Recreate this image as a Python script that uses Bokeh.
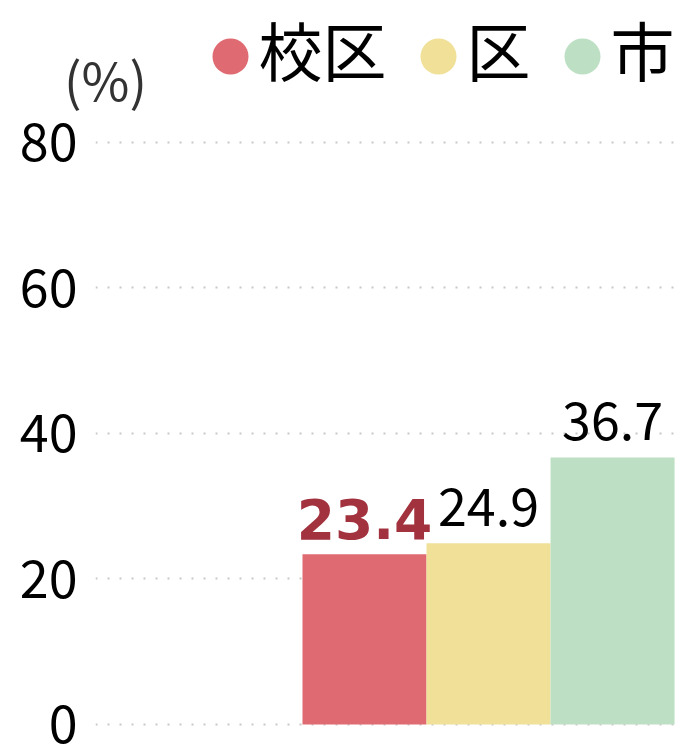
from bokeh.plotting import figure
from bokeh.models import (ColumnDataSource, Range1d, Label, FixedTicker, CDSView,
                          IndexFilter)
from bokeh.layouts import column
from bokeh.transform import dodge
from bokeh.core.properties import value
from bokeh.embed import file_html
from bokeh.resources import INLINE

# ---- data ----
categories = ["校区", "区", "市"]
values = [23.4, 24.9, 36.7]
colors = ["#DF6A72", "#F0E098", "#BDE0C4"]
y_ticks = [0, 20, 40, 60, 80]
unit_text = "(%)"
highlight = 0  # the school-district bar is emphasised

x_pos = list(range(len(categories)))
others = [i for i in x_pos if i != highlight]

W = 681
TOP_H = 118
MAIN_H = 749 - TOP_H
CJK = "Noto Sans CJK JP"

# ---------- header figure (unit label + legend), 1 unit = 1 px ----------
head = figure(width=W, height=TOP_H, output_backend="svg", toolbar_location=None,
              x_range=Range1d(0, W), y_range=Range1d(0, TOP_H),
              x_axis_type=None, y_axis_type=None,
              min_border_left=0, min_border_right=0, min_border_top=0,
              min_border_bottom=0)
head.outline_line_color = None
head.xgrid.visible = False
head.ygrid.visible = False

# legend layout: marker, then its label, then the next marker
LEG_FS = 64
leg_cx, leg_tx = [], []
cx = 230
for c in categories:
    leg_cx.append(cx)
    leg_tx.append(cx + 28)
    cx = cx + 28 + len(c) * LEG_FS + 52
leg_src = ColumnDataSource(dict(cx=leg_cx, tx=leg_tx, cat=categories, color=colors,
                                cy=[62] * len(categories),
                                ty=[71] * len(categories)))
head.scatter(x="cx", y="cy", marker="circle", size=36, fill_color="color",
             line_color=None, source=leg_src)
head.text(x="tx", y="ty", text="cat", source=leg_src, text_font=value(CJK),
          text_font_size=f"{LEG_FS}px", text_color="#000000",
          text_align="left", text_baseline="middle")

unit = Label(x=105, y=40, x_units="data", y_units="data",
             text=unit_text, text_font=CJK, text_font_size="52px",
             text_color="#333333", text_align="center", text_baseline="middle")
head.add_layout(unit)

# ---------- main chart ----------
p = figure(width=W, height=MAIN_H, output_backend="svg", toolbar_location=None,
           x_range=Range1d(-2.169, 2.556), y_range=Range1d(-1.375, 83.02),
           x_axis_type=None, min_border_left=95, min_border_right=0,
           min_border_top=2, min_border_bottom=15)
p.outline_line_color = None

for fig in (head, p):
    try:
        fig.frame_align = False
    except Exception:
        pass

ax = p.yaxis[0]
ax.ticker = FixedTicker(ticks=y_ticks)
ax.axis_line_color = None
ax.major_tick_line_color = None
ax.minor_tick_line_color = None
ax.major_tick_out = 0
ax.major_tick_in = 0
ax.major_label_standoff = 18
ax.major_label_text_font = CJK
ax.major_label_text_font_size = "52px"
ax.major_label_text_color = "#000000"

p.ygrid.ticker = FixedTicker(ticks=y_ticks)
p.ygrid.grid_line_color = "#c8c8c8"
p.ygrid.grid_line_dash = "2 10"
p.ygrid.grid_line_width = 2

src = ColumnDataSource(dict(
    x=x_pos, top=values, color=colors, cat=categories,
    label=[f"{v:.1f}" for v in values],
))
p.vbar(x="x", top="top", bottom=0, width=1.0, fill_color="color",
       line_color=None, source=src)

# value labels: emphasised one bold dark red, the others plain black
p.text(x="x", y=dodge("top", 4.9), text="label", source=src,
       view=CDSView(filter=IndexFilter([highlight])),
       text_font=value("DejaVu Sans"), text_font_style="bold",
       text_font_size="55px", text_color="#A2323E",
       text_align="center", text_baseline="middle")
p.text(x="x", y=dodge("top", 5.0), text="label", source=src,
       view=CDSView(filter=IndexFilter(others)),
       text_font=value(CJK), text_font_size="52px",
       text_color="#000000", text_align="center", text_baseline="middle")

layout = column(head, p, spacing=0)
open("out.html", "w").write(file_html(layout, INLINE))
